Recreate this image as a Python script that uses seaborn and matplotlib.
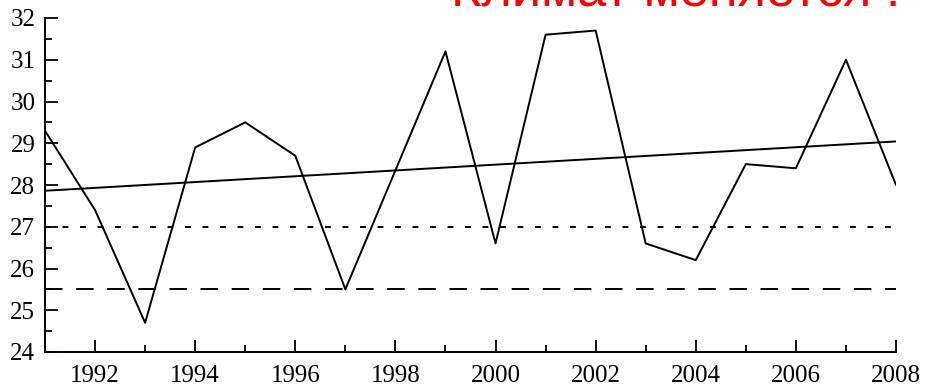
import numpy as np
import matplotlib.pyplot as plt
import seaborn as sns
from matplotlib.ticker import MultipleLocator

years = np.arange(1991, 2009)
temps = [29.3, 27.4, 24.7, 28.9, 29.5, 28.7, 25.5, 28.35, 31.2, 26.6,
         31.6, 31.7, 26.6, 26.2, 28.5, 28.4, 31.0, 28.0]
dotted_level = 27.0
dashed_level = 25.5
title = "Климат меняется !"

sns.set_style("ticks")
plt.rcParams["font.family"] = ["Liberation Serif", "DejaVu Serif"]

fig = plt.figure(figsize=(9.28, 3.9), dpi=100)
ax = fig.add_axes([45 / 928, 1 - 352 / 390, 851 / 928, 334 / 390])

sns.lineplot(x=years, y=temps, color="black", lw=1.4, ax=ax)
sns.regplot(x=years, y=temps, scatter=False, ci=None, ax=ax,
            line_kws=dict(color="black", lw=1.4))
ax.axhline(dotted_level, color="black", lw=1.4, ls=(0, (3, 6)))
ax.axhline(dashed_level, color="black", lw=1.4, ls=(0, (9, 7)))

ax.set_xlim(1991, 2008)
ax.set_ylim(24, 32)
ax.xaxis.set_minor_locator(MultipleLocator(1))
ax.yaxis.set_major_locator(MultipleLocator(1))
ax.yaxis.set_minor_locator(MultipleLocator(0.5))
ax.set_xticks(np.arange(1992, 2009, 2))
ax.tick_params(which="both", direction="in", color="black", width=1.3,
               labelsize=18, labelcolor="black")
ax.tick_params(which="major", length=9)
ax.tick_params(axis="x", which="major", pad=9)
ax.tick_params(axis="y", which="major", pad=7)
ax.tick_params(which="minor", length=5)
sns.despine(ax=ax)
for s in ("left", "bottom"):
    ax.spines[s].set_color("black")
    ax.spines[s].set_linewidth(1.4)

fig.text(0.970, 1 - 5 / 390, title, color="red", fontsize=37.7,
         family=["Liberation Sans", "DejaVu Sans"], ha="right", va="baseline")

fig.savefig("out.png", dpi=100)
